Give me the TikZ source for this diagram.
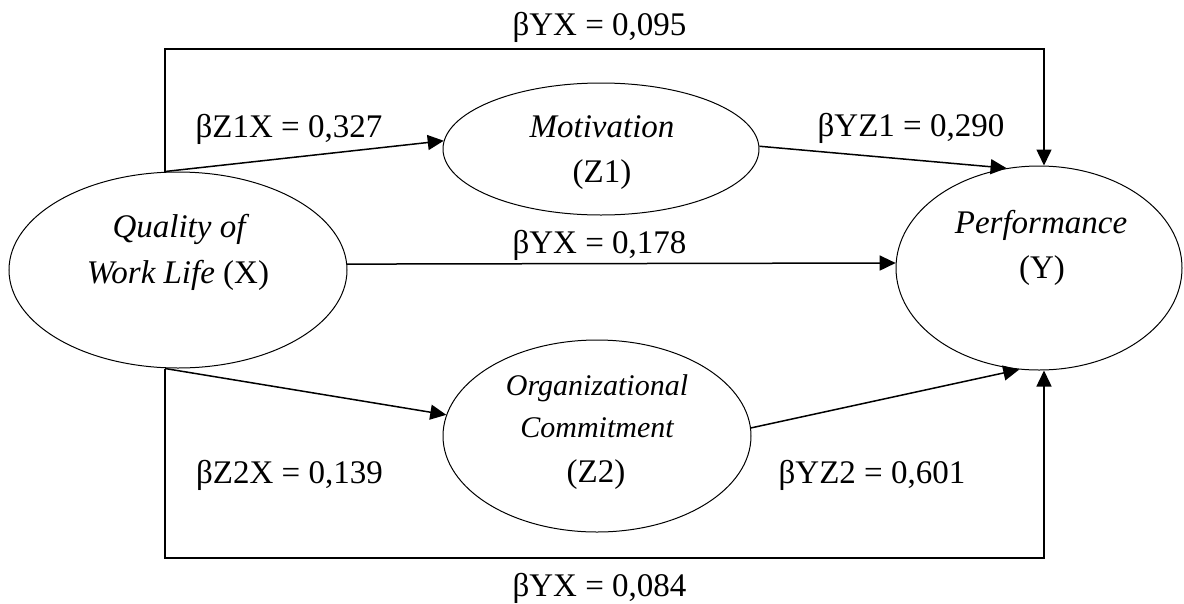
\documentclass[tikz,border=0pt]{standalone}
\usepackage{fontspec}
\setmainfont{Liberation Serif}
\usetikzlibrary{arrows.meta,shapes.geometric,calc}
\begin{document}
\begin{tikzpicture}[x=1pt,y=-1pt,
  font=\fontsize{33}{40}\selectfont,
  ell/.style={draw,ellipse,line width=1pt,inner sep=0pt},
  conn/.style={line width=1.5pt,-{Triangle[length=16pt,width=15pt]}},
  lbl/.style={anchor=base,inner sep=0pt},
  small/.style={lbl,font=\fontsize{30}{36}\selectfont}]
\useasboundingbox (0,0) rectangle (1184,603);
% ellipses
\node[ell,minimum width=338pt,minimum height=196pt] (X) at (178,270) {};
\node[ell,minimum width=316pt,minimum height=132pt] (M) at (601,149) {};
\node[ell,minimum width=308pt,minimum height=192pt] (O) at (597,436) {};
\node[ell,minimum width=286pt,minimum height=204pt] (Y) at (1039,268) {};
% ellipse texts
\node[lbl] (Xt1) at (179,237) {\itshape Quality of};
\node[lbl] (Xt2) at (178,283) {{\itshape Work Life} (X)};
\node[lbl] (Mt1) at (602,137) {\itshape Motivation};
\node[lbl] (Mt2) at (602,182) {(Z1)};
\node[small] (Ot1) at (597,395) {\itshape Organizational};
\node[small] (Ot2) at (597,437) {\itshape Commitment};
\node[lbl] (Ot3) at (596,482) {(Z2)};
\node[lbl] (Yt1) at (1041,233) {\itshape Performance};
\node[lbl] (Yt2) at (1042,278) {(Y)};
% corner coordinates
\coordinate (tl) at (165,49);
\coordinate (tr) at (1044,49);
\coordinate (bl) at (165,558);
\coordinate (br) at (1044,558);
% connectors
\draw[conn] (X.north -| tl) -- (tl) -- (tr) -- (Y.north -| tr);
\draw[conn] (X.south -| bl) -- (bl) -- (br) -- (Y.south -| br);
\draw[conn] (X.north -| tl) -- (M.177);
\draw[conn] (M.1) -- (Y.108);
\draw[conn] (X.2) -- (Y.178);
\draw[conn] (X.south -| bl) -- (O.172);
\draw[conn] (O.3) -- (Y.259);
% labels
\node[lbl] (l1) at (599.5,35) {βYX = 0,095};
\node[lbl] (l2) at (289,137) {βZ1X = 0,327};
\node[lbl] (l3) at (911,136) {βYZ1 = 0,290};
\node[lbl] (l4) at (599.5,253) {βYX = 0,178};
\node[lbl] (l5) at (289.5,483) {βZ2X = 0,139};
\node[lbl] (l6) at (872,483) {βYZ2 = 0,601};
\node[lbl] (l7) at (599.5,596) {βYX = 0,084};
\end{tikzpicture}
\end{document}
